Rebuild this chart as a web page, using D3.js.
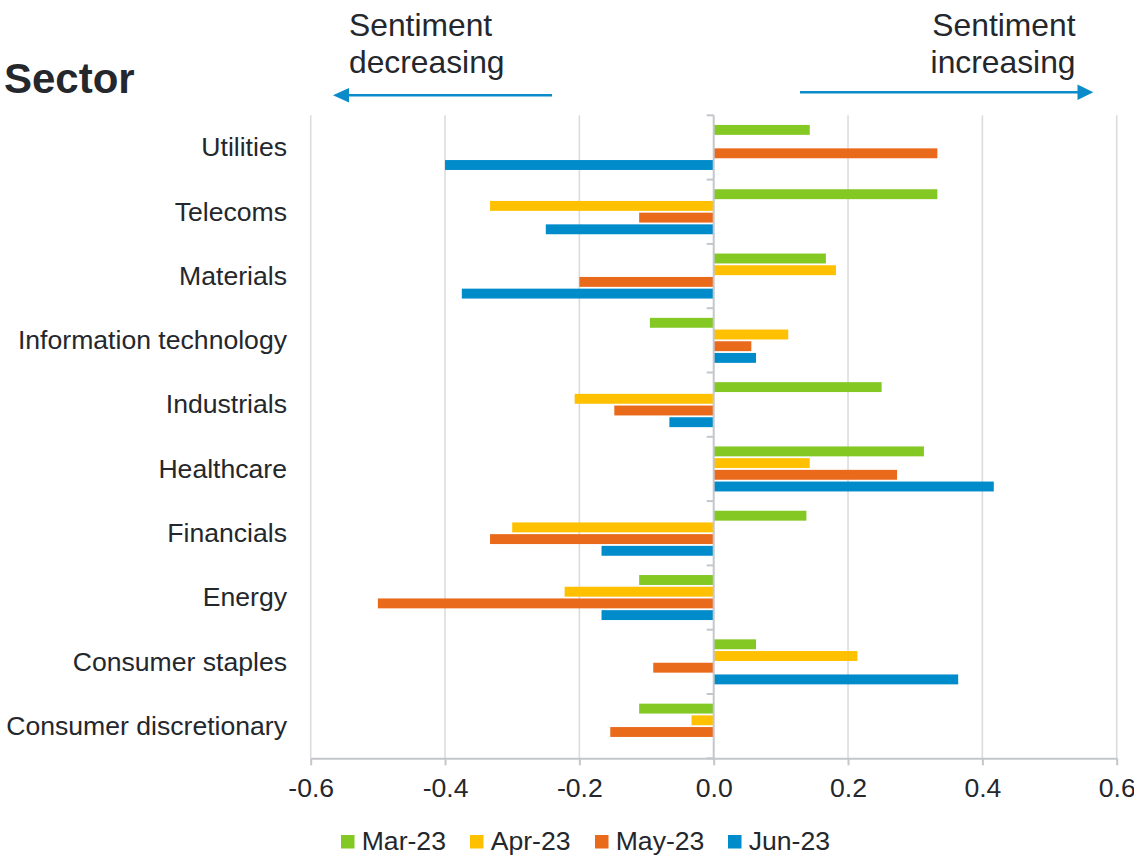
<!DOCTYPE html>
<html>
<head>
<meta charset="utf-8">
<script src="https://cdn.jsdelivr.net/npm/d3@7"></script>
<style>
  html, body { margin: 0; padding: 0; background: #ffffff; }
  svg text { font-family: "Liberation Sans", Arial, Helvetica, sans-serif; fill: #24272c; }
</style>
</head>
<body>
<svg id="chart" width="1134" height="856"></svg>
<script>
// Sectors, top to bottom
const sectors = ["Utilities", "Telecoms", "Materials", "Information technology", "Industrials",
  "Healthcare", "Financials", "Energy", "Consumer staples", "Consumer discretionary"];
// Survey months
const months = ["Mar-23", "Apr-23", "May-23", "Jun-23"];
// Net sentiment change per sector, one array per month (same order as sectors)
const mar23 = [0.143, 0.333, 0.167, -0.095, 0.25, 0.313, 0.138, -0.111, 0.063, -0.111];
const apr23 = [0, -0.333, 0.182, 0.111, -0.207, 0.143, -0.3, -0.222, 0.214, -0.033];
const may23 = [0.333, -0.111, -0.2, 0.056, -0.148, 0.273, -0.333, -0.5, -0.09, -0.154];
const jun23 = [-0.4, -0.25, -0.375, 0.063, -0.066, 0.417, -0.167, -0.167, 0.364, 0];
const xTickValues = [-0.6, -0.4, -0.2, 0, 0.2, 0.4, 0.6];
const xTickLabels = ["-0.6", "-0.4", "-0.2", "0.0", "0.2", "0.4", "0.6"];
const colors = ["#83c823", "#ffc000", "#ea6a1c", "#008bca"];

const series = [mar23, apr23, may23, jun23];
const svg = d3.select("#chart");
const labelSize = 26.6;

const x = d3.scaleLinear().domain([-0.6, 0.6]).range([310.7, 1116.7]);
const y0 = d3.scaleBand().domain(sectors).range([115.3, 758.3]).paddingInner(0).paddingOuter(0);
const y1 = d3.scaleBand().domain(months).range([0, 46.8]);
const groupOffset = (y0.bandwidth() - 46.8) / 2;

// Vertical gridlines
svg.append("g").selectAll("line")
  .data(xTickValues.filter(v => v !== 0))
  .join("line")
  .attr("x1", d => x(d)).attr("x2", d => x(d))
  .attr("y1", 115.3).attr("y2", 758.3)
  .attr("stroke", "#dcdcdc").attr("stroke-width", 1.6);

// Bars
const groups = svg.append("g").selectAll("g")
  .data(sectors)
  .join("g")
  .attr("transform", d => `translate(0,${y0(d) + groupOffset})`);

groups.selectAll("rect")
  .data((d, i) => months.map((m, j) => ({ m, j, v: series[j][i] })).filter(e => e.v !== 0))
  .join("rect")
  .attr("x", e => x(Math.min(0, e.v)))
  .attr("width", e => Math.abs(x(e.v) - x(0)))
  .attr("y", e => y1(e.m) + 0.9)
  .attr("height", y1.bandwidth() - 1.8)
  .attr("fill", e => colors[e.j]);

// Bottom value axis
const xAxis = d3.axisBottom(x)
  .tickValues(xTickValues)
  .tickSize(7)
  .tickSizeOuter(0)
  .tickPadding(13)
  .tickFormat((d, i) => xTickLabels[i]);
const gx = svg.append("g").attr("transform", "translate(0,758.3)").call(xAxis);
gx.select(".domain").attr("stroke", "#c3c6cb").attr("stroke-width", 2);
gx.selectAll(".tick line").attr("stroke", "#c3c6cb").attr("stroke-width", 2);
gx.selectAll(".tick text").attr("font-size", labelSize).attr("fill", "#24272c")
  .style("font-family", "'Liberation Sans', Arial, sans-serif");

// Zero line with category boundary ticks
const zx = x(0);
svg.append("line")
  .attr("x1", zx).attr("x2", zx).attr("y1", 115.3).attr("y2", 758.3)
  .attr("stroke", "#c3c6cb").attr("stroke-width", 2);
const bounds = sectors.map(s => y0(s)).concat([y0.range()[1]]);
svg.append("g").selectAll("line")
  .data(bounds)
  .join("line")
  .attr("x1", zx - 7).attr("x2", zx)
  .attr("y1", d => d).attr("y2", d => d)
  .attr("stroke", "#c3c6cb").attr("stroke-width", 2);

// Category labels
svg.append("g").selectAll("text")
  .data(sectors)
  .join("text")
  .attr("x", 287)
  .attr("y", d => y0(d) + y0.bandwidth() / 2)
  .attr("dy", "0.33em")
  .attr("text-anchor", "end")
  .attr("font-size", labelSize)
  .text(d => d);

// Title
svg.append("text").attr("x", 4).attr("y", 93)
  .attr("font-size", 42).attr("font-weight", "bold").text("Sector");

// Direction annotations
const arrowBlue = "#0a8bca";
const leftNote = svg.append("text").attr("x", 349).attr("font-size", 31.8);
leftNote.append("tspan").attr("x", 349).attr("y", 35.7).text("Sentiment");
leftNote.append("tspan").attr("x", 349).attr("y", 72.7).text("decreasing");
const rightNote = svg.append("text").attr("text-anchor", "end").attr("font-size", 31.8);
rightNote.append("tspan").attr("x", 1075.5).attr("y", 35.7).text("Sentiment");
rightNote.append("tspan").attr("x", 1075.5).attr("y", 72.7).text("increasing");

svg.append("line").attr("x1", 552).attr("x2", 346).attr("y1", 95.3).attr("y2", 95.3)
  .attr("stroke", arrowBlue).attr("stroke-width", 2.5);
svg.append("path").attr("d", "M333,95.3 L349,88 L349,102.6 Z").attr("fill", arrowBlue);
svg.append("line").attr("x1", 800).attr("x2", 1080).attr("y1", 92.3).attr("y2", 92.3)
  .attr("stroke", arrowBlue).attr("stroke-width", 2.5);
svg.append("path").attr("d", "M1093.3,92.3 L1077.5,84.5 L1077.5,100.1 Z").attr("fill", arrowBlue);

// Legend
const legendX = [341, 470, 595, 728];
const legend = svg.append("g").selectAll("g")
  .data(months)
  .join("g")
  .attr("transform", (d, i) => `translate(${legendX[i]},835)`);
legend.append("rect").attr("width", 13.5).attr("height", 13.5)
  .attr("fill", (d, i) => colors[i]);
legend.append("text").attr("x", 20.7).attr("y", 15).attr("font-size", labelSize).text(d => d);
</script>
</body>
</html>
